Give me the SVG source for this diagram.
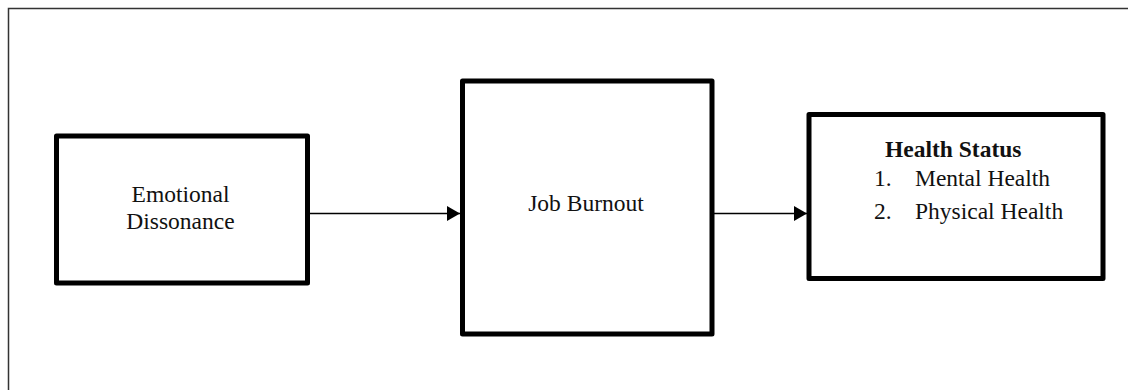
<svg xmlns="http://www.w3.org/2000/svg" width="1128" height="390" viewBox="0 0 1128 390">
  <style>
    .box { fill: #ffffff; stroke: #000000; stroke-width: 5; stroke-linejoin: round; }
    .lbl { font-family: "Liberation Serif", "Times New Roman", serif; font-size: 23.5px; fill: #111111; }
    .bold { font-weight: bold; }
    .conn { stroke: #000000; stroke-width: 1.5; fill: none; }
  </style>
  <defs>
    <marker id="arrow" markerUnits="userSpaceOnUse" markerWidth="14" markerHeight="15" refX="13" refY="7.5" orient="auto">
      <path d="M0,0 L13,7.5 L0,15 z" fill="#000000"/>
    </marker>
  </defs>
  <rect width="1128" height="390" fill="#ffffff"/>
  <path id="frame" d="M8.5,390 L8.5,8.5 L1128,8.5" fill="none" stroke="#333333" stroke-width="1.5"/>

  <g id="connectors">
    <line class="conn" x1="310" y1="213.5" x2="460" y2="213.5" marker-end="url(#arrow)"/>
    <line class="conn" x1="714" y1="213.5" x2="807" y2="213.5" marker-end="url(#arrow)"/>
  </g>

  <g id="emotional-dissonance">
    <rect class="box" x="56.5" y="136" width="251" height="147"/>
    <text class="lbl" x="180.5" y="202" text-anchor="middle">Emotional</text>
    <text class="lbl" x="180.5" y="228.5" text-anchor="middle">Dissonance</text>
  </g>

  <g id="job-burnout">
    <rect class="box" x="462.5" y="81" width="249.5" height="253"/>
    <text class="lbl" x="586" y="211" text-anchor="middle">Job Burnout</text>
  </g>

  <g id="health-status">
    <rect class="box" x="809" y="114.5" width="294" height="164"/>
    <text class="lbl bold" x="885" y="157">Health Status</text>
    <text class="lbl" x="874" y="185.5">1.</text>
    <text class="lbl" x="915" y="185.5">Mental Health</text>
    <text class="lbl" x="874" y="218.5">2.</text>
    <text class="lbl" x="915" y="218.5">Physical Health</text>
  </g>
</svg>
